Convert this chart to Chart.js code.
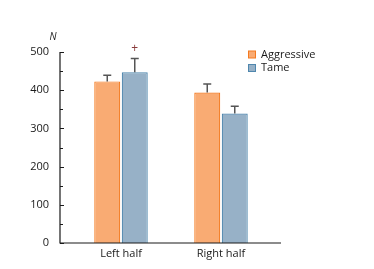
<!DOCTYPE html>
<html lang="en">
<head>
<meta charset="UTF-8">
<title>Left / right half</title>
<script src="https://cdn.jsdelivr.net/npm/chart.js@4.4.0/dist/chart.umd.min.js"></script>
<style>
  html, body { margin: 0; padding: 0; background: #fff; }
  #wrap { width: 374px; height: 269px; }
</style>
</head>
<body>
<div id="wrap"><canvas id="c" width="374" height="269"></canvas></div>
<script>
var categories = ['Left half', 'Right half'];
var seriesNames = ['Aggressive', 'Tame'];
var aggressive = [423, 394];
var tame = [447, 339];
var aggressiveErr = [16, 22];
var tameErr = [36, 19];
var yTicks = [0, 100, 200, 300, 400, 500];
var marks = [['', ''], ['+', '']]; // significance marks per series / category

var FONT = '"Open Sans", "Noto Sans", sans-serif';

// axis lines, inward ticks, error bars, marks, legend
var extras = {
    id: 'extras',
    afterDatasetsDraw: function(chart) {
        var ctx = chart.ctx;
        var a = chart.chartArea;
        var y = chart.scales.y;
        var x0 = a.left - 11, x1 = a.right + 10;
        ctx.save();
        ctx.strokeStyle = '#1a1a1a';
        ctx.lineWidth = 1.2;
        ctx.beginPath();
        ctx.moveTo(x0, y.getPixelForValue(500));
        ctx.lineTo(x0, a.bottom);
        ctx.lineTo(x1, a.bottom);
        ctx.stroke();
        ctx.lineWidth = 1;
        for (var v = 0; v <= 500; v += 50) {
            var py = Math.round(y.getPixelForValue(v)) + 0.5;
            ctx.beginPath();
            ctx.moveTo(x0, py);
            ctx.lineTo(x0 + (v % 100 === 0 ? 4 : 3), py);
            ctx.stroke();
        }

        var errs = [aggressiveErr, tameErr];
        chart.data.datasets.forEach(function(ds, di) {
            var meta = chart.getDatasetMeta(di);
            meta.data.forEach(function(bar, i) {
                var top = y.getPixelForValue(ds.data[i] + errs[di][i]);
                ctx.strokeStyle = '#555';
                ctx.lineWidth = 1.5;
                ctx.beginPath();
                ctx.moveTo(bar.x, bar.y);
                ctx.lineTo(bar.x, top);
                ctx.moveTo(bar.x - 4, top);
                ctx.lineTo(bar.x + 4, top);
                ctx.stroke();
                if (marks[di][i]) {
                    ctx.fillStyle = '#8a3b3b';
                    ctx.font = '12px ' + FONT;
                    ctx.textAlign = 'center';
                    ctx.textBaseline = 'middle';
                    ctx.fillText(marks[di][i], bar.x, top - 10);
                }
            });
        });

        // N label
        ctx.fillStyle = '#1a1a1a';
        ctx.font = 'italic 10px ' + FONT;
        ctx.textAlign = 'center';
        ctx.textBaseline = 'middle';
        ctx.fillText('N', x0 - 7, y.getPixelForValue(500) - 15);

        // legend
        ctx.font = '11px ' + FONT;
        ctx.textAlign = 'left';
        chart.data.datasets.forEach(function(ds, di) {
            var ly = 54.5 + di * 13.5;
            ctx.fillStyle = ds.backgroundColor;
            ctx.strokeStyle = ds.borderColor;
            ctx.lineWidth = 1;
            ctx.fillRect(248.5, ly - 3.5, 7, 7);
            ctx.strokeRect(248.5, ly - 3.5, 7, 7);
            ctx.fillStyle = '#1a1a1a';
            ctx.fillText(ds.label, 261, ly);
        });
        ctx.restore();
    }
};

new Chart(document.getElementById('c'), {
    type: 'bar',
    data: {
        labels: categories,
        datasets: [
            { label: seriesNames[0], data: aggressive, backgroundColor: '#f9ab73', borderColor: '#f47a20', borderWidth: 1.2 },
            { label: seriesNames[1], data: tame, backgroundColor: '#97b1c7', borderColor: '#4f87ae', borderWidth: 1.2 }
        ]
    },
    options: {
        responsive: false,
        animation: false,
        layout: { padding: { left: 0, right: 103, top: 52, bottom: 0 } },
        categoryPercentage: 0.55,
        barPercentage: 0.945,
        plugins: { legend: { display: false }, tooltip: { enabled: false } },
        scales: {
            x: {
                offset: true,
                grid: { display: false },
                border: { display: false },
                ticks: { color: '#1a1a1a', font: { family: FONT, size: 11 }, padding: -4 },
                afterFit: function(s) { s.height = 26; }
            },
            y: {
                min: 0,
                max: 500,
                afterBuildTicks: function(s) { s.ticks = yTicks.map(function(v) { return { value: v }; }); },
                grid: { display: false },
                border: { display: false },
                ticks: { color: '#1a1a1a', font: { family: FONT, size: 11 }, padding: 14 },
                afterFit: function(s) { s.width = 71; }
            }
        }
    },
    plugins: [extras]
});
</script>
</body>
</html>
